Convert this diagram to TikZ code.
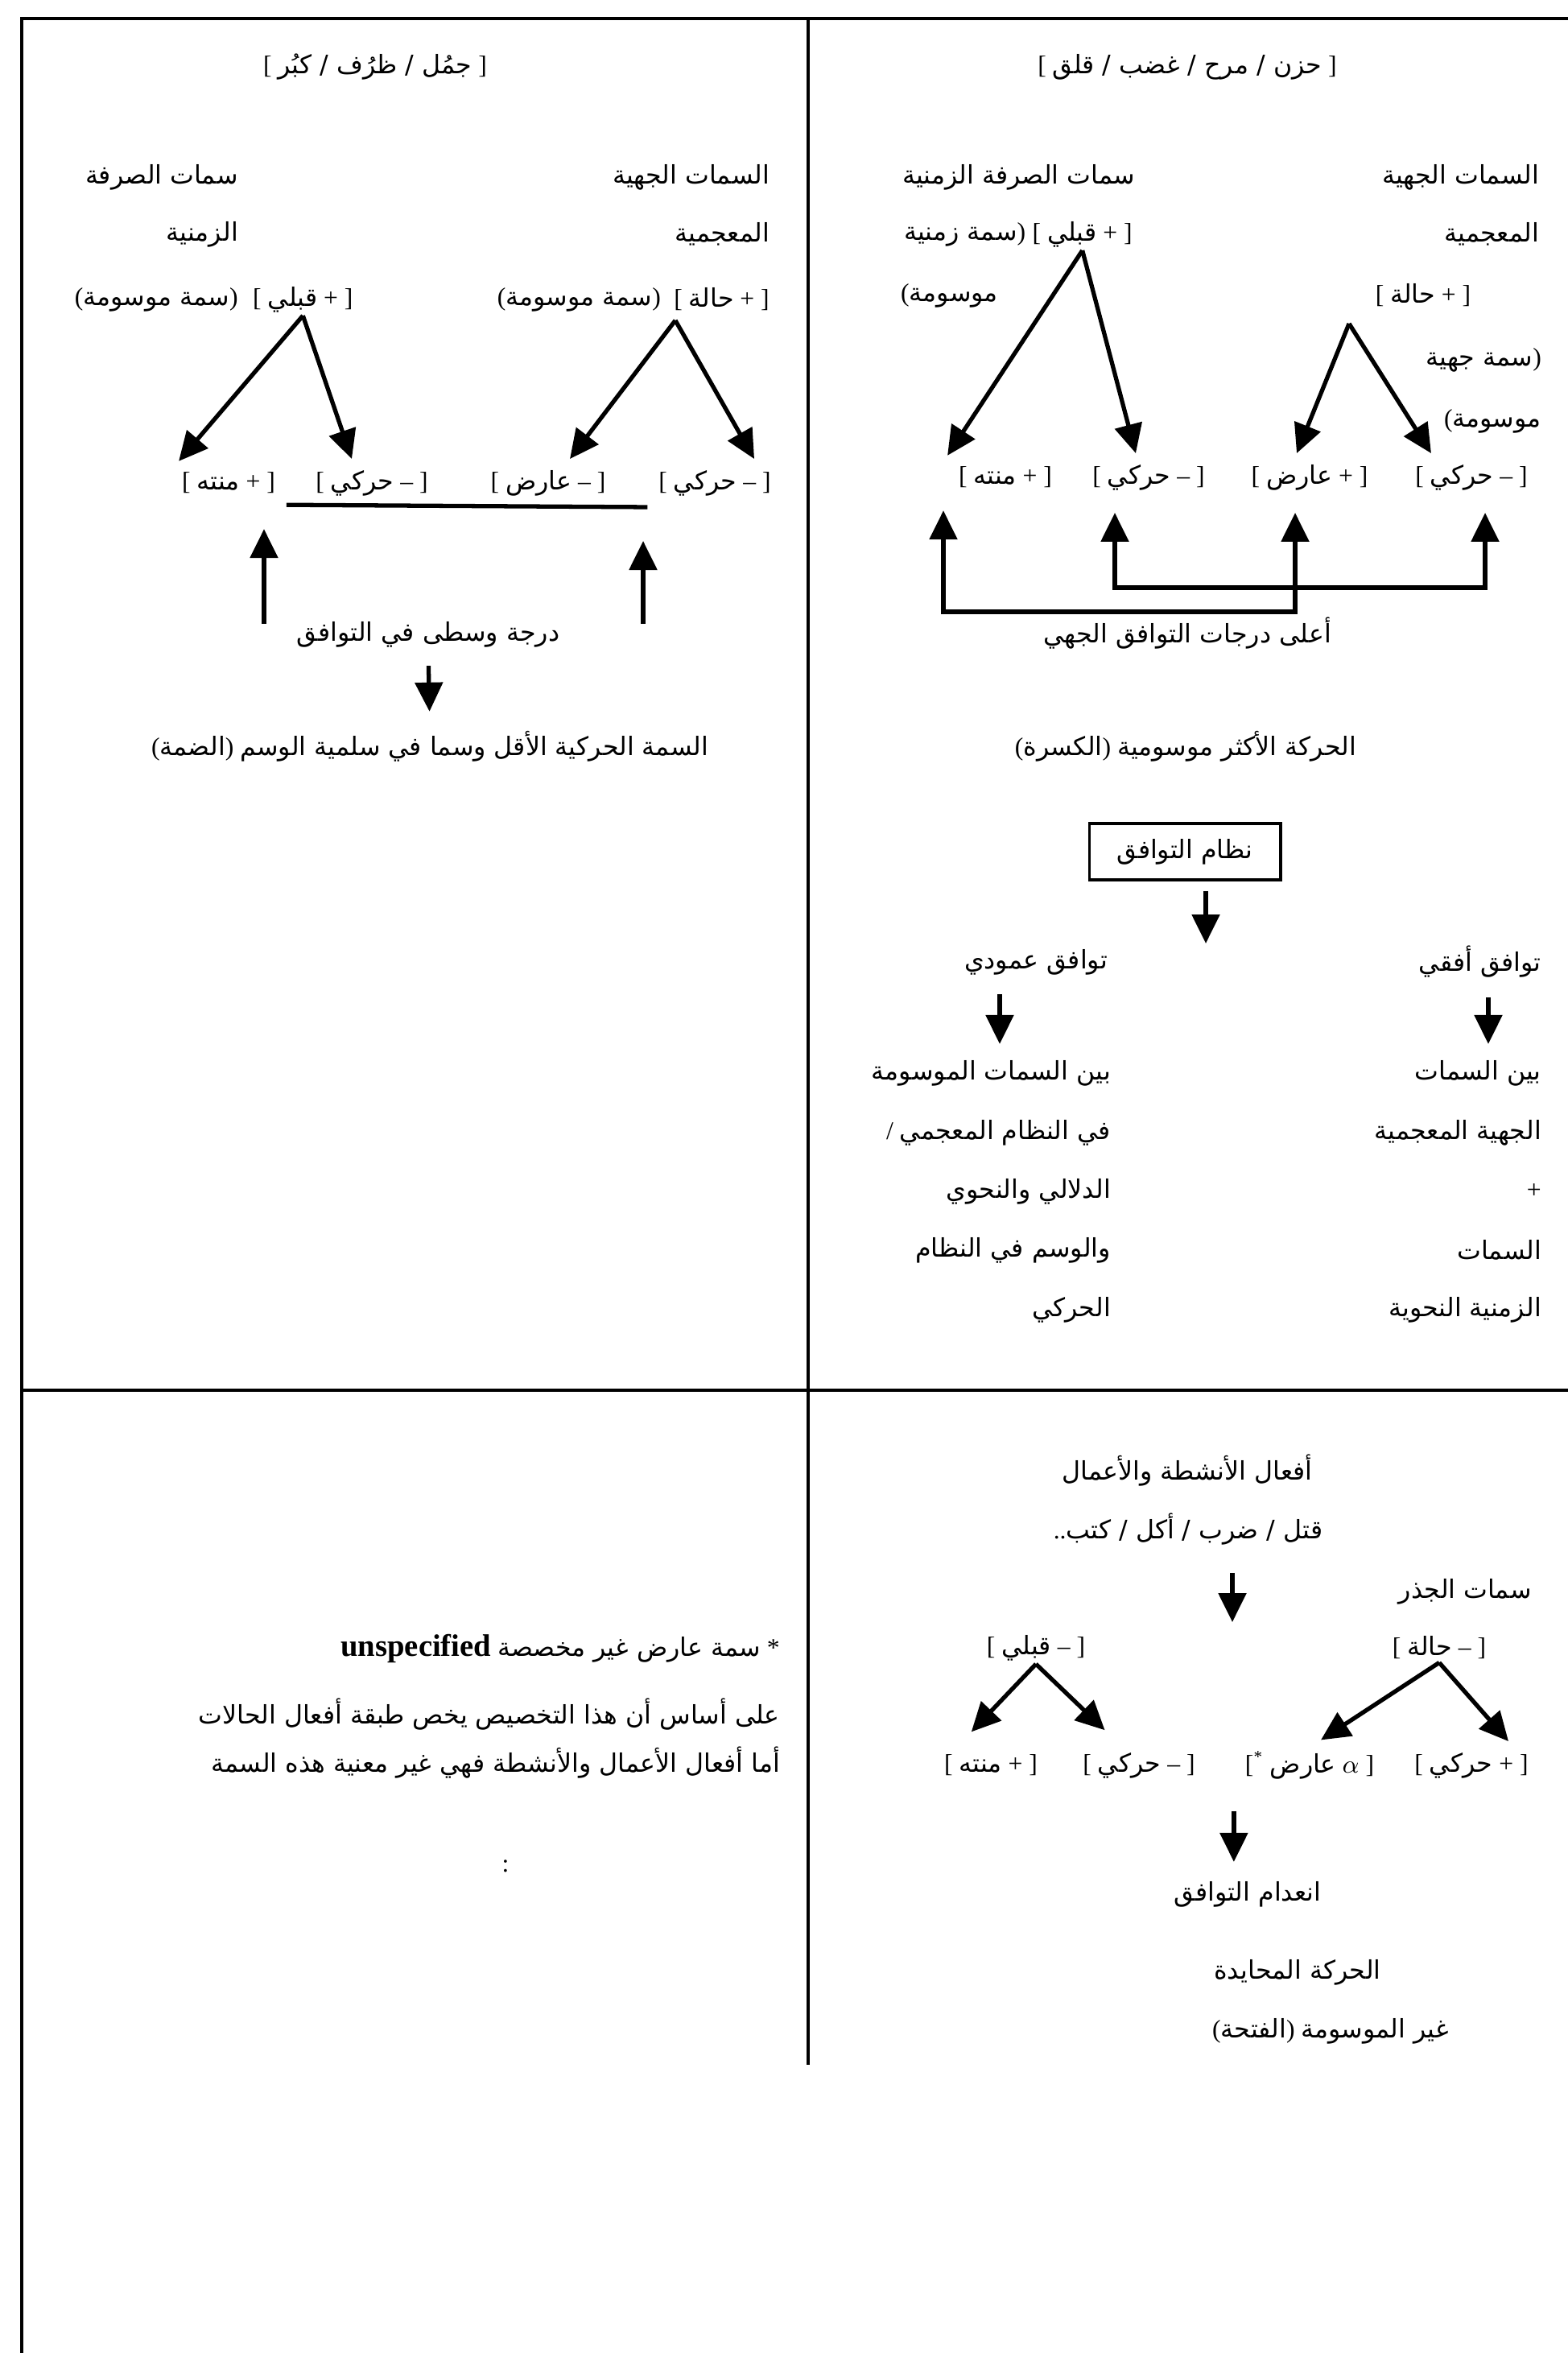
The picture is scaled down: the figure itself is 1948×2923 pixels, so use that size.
\documentclass[tikz,border=0pt]{standalone}
\usepackage{fontspec}
\setmainfont{Liberation Serif}
\newfontfamily\arabicfont[Script=Arabic]{DejaVu Sans}
\usetikzlibrary{arrows.meta,calc}
\TeXXeTstate=1
\newcommand{\arb}[1]{{\arabicfont\beginR #1\endR}}
\begin{document}
\begin{tikzpicture}[x=0.01cm,y=-0.01cm,
  every node/.style={inner sep=1pt,font=\fontsize{9}{11}\selectfont},
  feat/.style={outer sep=3pt},
  rule/.style={line width=1.1pt},
  arr/.style={line width=1.5pt,-{Triangle[length=0.36cm,width=0.34cm]}},
  arrboth/.style={line width=1.5pt,{Triangle[length=0.36cm,width=0.34cm]}-{Triangle[length=0.36cm,width=0.34cm]}}]
\useasboundingbox (0,0) rectangle (1948,2923);
% frame
\draw[rule] (27,2923) -- (27,23) -- (1948,23);
\draw[rule] (1004,23) -- (1004,2565);
\draw[rule] (27,1727) -- (1948,1727);

% top right
\node (rt) at (1475,83) {[ {\arabicfont\beginR حزن / مرح / غضب / قلق\endR} ]};
\node[anchor=east] (ra1) at (1916,220) {\arb{السمات الجهية}};
\node[anchor=east] (ra2) at (1916,291) {\arb{المعجمية}};
\node (rh) at (1768,367) {[ \arb{حالة} + ]};
\node[anchor=east] (ra3) at (1919,447) {\arb{سمة جهية})};
\node[anchor=east] (ra4) at (1919,523) {(\arb{موسومة}};
\node[anchor=east] (rm1) at (1414,220) {\arb{سمات الصرفة الزمنية}};
\node[anchor=east] (rq) at (1411,291) {[ \arb{قبلي} + ]};
\node[anchor=east] (rm2) at (rq.west) {\arb{سمة زمنية})};
\node[anchor=west] (rm3) at (1115,367) {(\arb{موسومة}};
\node[feat] (tg1) at (1249,593) {[ \arb{منته} + ]};
\node[feat] (tg2) at (1427,593) {[ \arb{حركي} – ]};
\node[feat] (tg3) at (1627,593) {[ \arb{عارض} + ]};
\node[feat] (tg4) at (1828,593) {[ \arb{حركي} – ]};
\coordinate (ha) at (1676,402);
\draw[arr] (rq.south) -- (tg1.north west);
\draw[arr] (rq.south) -- ([xshift=-0.16cm]tg2.north);
\draw[arr] (ha) -- ([xshift=-0.16cm]tg3.north);
\draw[arr] (ha) -- ([xshift=-0.5cm]tg4.north);
\coordinate (la) at (1172,760);
\coordinate (lb) at (1609,760);
\coordinate (lc) at (1385,730);
\coordinate (ld) at (1845,730);
\draw[arrboth,shorten <=0.14cm,shorten >=0.14cm] (la |- tg1.south) -- (la) -- (lb) -- (lb |- tg3.south);
\draw[arrboth,shorten <=0.14cm,shorten >=0.14cm] (lc |- tg2.south) -- (lc) -- (ld) -- (ld |- tg4.south);
\node (rtop) at (1475,787) {\arb{أعلى درجات التوافق الجهي}};
\node (rmark) at (1473,927) {(\arb{الكسرة}) \arb{الحركة الأكثر موسومية}};
\node[draw,line width=1.1pt,minimum width=2.37cm,minimum height=0.7cm] (sys) at (1472,1058) {\arb{نظام التوافق}};
\coordinate (se) at (1498,1172);
\draw[arr,shorten <=0.12cm] (sys.south -| se) -- (se);
\node (vert) at (1287,1195) {\arb{توافق عمودي}};
\node[anchor=east] (horz) at (1919,1195) {\arb{توافق أفقي}};
\node[anchor=east] (vl1) at (1384,1333) {\arb{بين السمات الموسومة}};
\node[anchor=east] (vl2) at (1384,1407) {/ \arb{في النظام المعجمي}};
\node[anchor=east] (vl3) at (1384,1480) {\arb{الدلالي والنحوي}};
\node[anchor=east] (vl4) at (1384,1553) {\arb{والوسم في النظام}};
\node[anchor=east] (vl5) at (1384,1627) {\arb{الحركي}};
\node[anchor=east] (hl1) at (1919,1333) {\arb{بين السمات}};
\node[anchor=east] (hl2) at (1919,1407) {\arb{الجهية المعجمية}};
\node[anchor=east] (hl3) at (1919,1480) {+};
\node[anchor=east] (hl4) at (1919,1553) {\arb{السمات}};
\node[anchor=east] (hl5) at (1919,1627) {\arb{الزمنية النحوية}};
\coordinate (va) at (1242,1232);
\coordinate (hb) at (1849,1232);
\draw[arr,shorten <=0.2cm,shorten >=0.16cm] (vert.south -| va) -- (vl1.north -| va);
\draw[arr,shorten <=0.2cm,shorten >=0.16cm] (horz.south -| hb) -- (hl1.north -| hb);

% top left
\node (lt) at (466,83) {[ {\arabicfont\beginR جمُل / ظرُف / كبُر\endR} ]};
\node[anchor=east] (la1) at (960,220) {\arb{السمات الجهية}};
\node[anchor=east] (la2) at (960,291) {\arb{المعجمية}};
\node[anchor=east] (lm1) at (300,220) {\arb{سمات الصرفة}};
\node[anchor=east] (lm2) at (300,291) {\arb{الزمنية}};
\node[anchor=east] (lh) at (960,372) {[ \arb{حالة} + ]};
\node[anchor=east] (lh2) at ([xshift=-0.08cm]lh.west) {(\arb{سمة موسومة})};
\node[anchor=west] (lq) at (310,372) {[ \arb{قبلي} + ]};
\node[anchor=east] (lq2) at (300,372) {(\arb{سمة موسومة})};
\node[feat] (lg1) at (284,600) {[ \arb{منته} + ]};
\node[feat] (lg2) at (462,600) {[ \arb{حركي} – ]};
\node[feat] (lg3) at (681,600) {[ \arb{عارض} – ]};
\node[feat] (lg4) at (888,600) {[ \arb{حركي} – ]};
\coordinate (hc) at (839,398);
\draw[arr] (lq.south) -- ([xshift=0.1cm]lg1.north west);
\draw[arr] (lq.south) -- ([xshift=-0.25cm]lg2.north);
\draw[arr] (hc) -- ([xshift=0.27cm]lg3.north);
\draw[arr] (hc) -- ([xshift=0.49cm]lg4.north);
\draw[line width=1.5pt] (lg1.south east) -- (lg4.south west);
\node (mid) at (532,788) {\arb{درجة وسطى في التوافق}};
\coordinate (ua) at (328,775);
\coordinate (ub) at (799,775);
\draw[arr,shorten >=0.3cm] (ua) -- (ua |- lg1.south east);
\draw[arr,shorten >=0.42cm] (ub) -- (ub |- lg4.south west);
\node (least) at (534,927) {(\arb{الضمة}) \arb{السمة الحركية الأقل وسما في سلمية الوسم}};
\draw[arr,shorten <=0.19cm,shorten >=0.2cm] (mid.south) -- (least.north);

% bottom right
\node (acts) at (1475,1827) {\arb{أفعال الأنشطة والأعمال}};
\node (verbs) at (1476,1900) {..{\arabicfont\beginR قتل / ضرب / أكل / كتب\endR}};
\coordinate (vd) at (1531,2015);
\draw[arr,shorten <=0.3cm] (verbs.south -| vd) -- (vd);
\node[anchor=east] (root) at (1907,1977) {\arb{سمات الجذر}};
\node (bq) at (1287,2047) {[ \arb{قبلي} – ]};
\node (bh) at (1788,2047) {[ \arb{حالة} – ]};
\node[feat] (bg1) at (1231,2193) {[ \arb{منته} + ]};
\node[feat] (bg2) at (1415,2193) {[ \arb{حركي} – ]};
\node[feat] (bg3) at (1627,2193) {[\textsuperscript{*} \arb{عارض} $\alpha$ ]};
\node[feat] (bg4) at (1828,2193) {[ \arb{حركي} + ]};
\draw[arr,shorten >=0.2cm] (bq.south) -- ([xshift=-0.38cm]bg1.north);
\draw[arr,shorten >=0.2cm] (bq.south) -- ([xshift=-0.28cm]bg2.north);
\draw[arr] (bh.south) -- ([xshift=0.14cm]bg3.north);
\draw[arr] (bh.south) -- ([xshift=0.46cm]bg4.north);
\node (none) at (1550,2353) {\arb{انعدام التوافق}};
\draw[arr,shorten <=0.25cm,shorten >=0.2cm] (bg3.south west) -- (bg3.south west |- none.north);
\node (neut) at (1612,2450) {\arb{الحركة المحايدة}};
\node (unm) at (1653,2523) {(\arb{الفتحة}) \arb{غير الموسومة}};

% bottom left
\node[anchor=east] (fn1) at (973,2048) {{\fontsize{11}{13}\selectfont\bfseries unspecified} \arb{سمة عارض غير مخصصة} *};
\node[anchor=east] (fn2) at (973,2130) {\arb{على أساس أن هذا التخصيص يخص طبقة أفعال الحالات}};
\node[anchor=east] (fn3) at (973,2190) {\arb{أما أفعال الأعمال والأنشطة فهي غير معنية هذه السمة}};
\node (colon) at (628,2318) {:};
\end{tikzpicture}
\end{document}
